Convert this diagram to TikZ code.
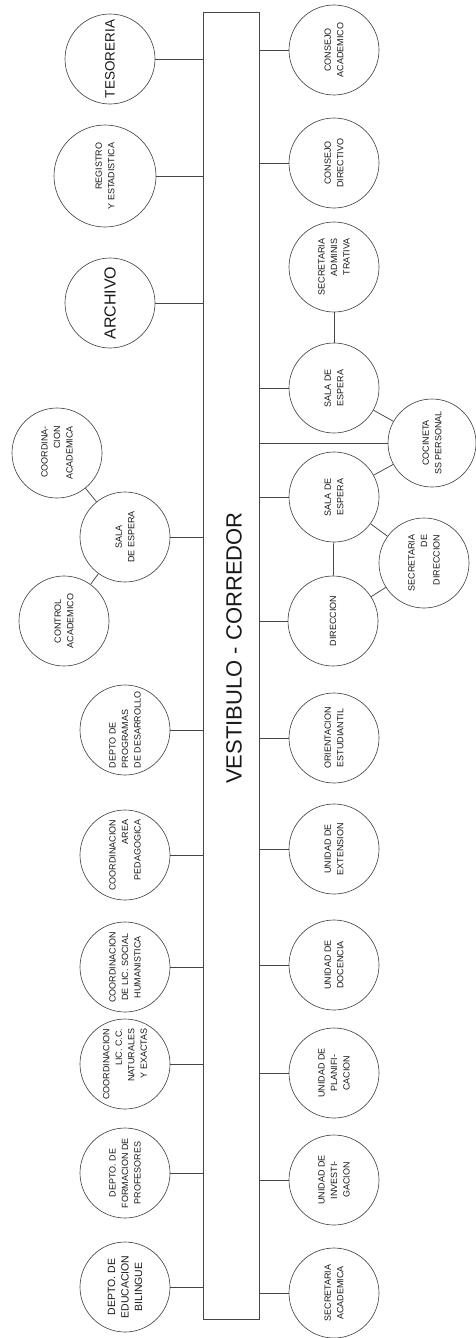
\documentclass[tikz,border=0pt]{standalone}
\usepackage{fontspec}
\setmainfont{Liberation Sans}
\definecolor{planline}{RGB}{70,70,70}
\definecolor{plantext}{RGB}{25,25,25}
\tikzset{
  room/.style={
    circle,
    draw=planline,
    line width=0.65pt,
    minimum size=90pt,
    inner sep=0pt,
    align=center,
    rotate=90,
    text=plantext,
    font=\fontsize{9}{12.5}\selectfont
  },
  hall/.style={
    rectangle,
    draw=planline,
    line width=0.8pt,
    minimum width=56pt,
    minimum height=1307pt,
    inner sep=0pt
  },
  hallname/.style={
    rotate=90,
    text=plantext,
    font=\fontsize{22}{24}\selectfont
  },
  link/.style={
    draw=planline,
    line width=0.75pt
  }
}

\begin{document}
\begin{tikzpicture}[x=1pt,y=-1pt]
\useasboundingbox (0,0) rectangle (475,1338);
\node[hall] (bar) at (231,665.5) {};
\node[hallname] (hallname) at (234,648) {VESTIBULO - CORREDOR};

% left side
\node[room, font=\fontsize{13.5}{15}\selectfont] (tes) at (110,59) {TESORERIA};
\node[room, minimum size=102pt, align=right] (reg) at (105,176) {REGISTRO\\Y ESTADISTICA};
\node[room, font=\fontsize{16}{18}\selectfont] (arch) at (110,303) {ARCHIVO};
\node[room, align=right] (coac) at (57,453) {COORDINA-\\CION\\ACADEMICA};
\node[room] (salaL) at (125,537) {SALA\\DE ESPERA};
\node[room] (ctrl) at (64,621) {CONTROL\\ACADEMICO};
\node[room, align=left] (dprog) at (125,730) {DEPTO DE\\PROGRAMAS\\DE DESARROLLO};
\node[room, align=right] (cped) at (125,855) {COORDINACION\\AREA\\PEDAGOGICA};
\node[room] (csoc) at (125,967) {COORDINACION\\DE LIC. SOCIAL\\HUMANISTICA};
\node[room, align=right] (cnat) at (125,1064) {COORDINACION\\LIC. C.C.\\NATURALES\\Y EXACTAS};
\node[room] (dform) at (125,1173) {DEPTO. DE\\FORMACION DE\\PROFESORES};
\node[room, font=\fontsize{10.5}{13.5}\selectfont] (dbil) at (125,1287) {DEPTO. DE\\EDUCACION\\BILINGUE};

% right side
\node[room] (cacad) at (334,50) {CONSEJO\\ACADEMICO};
\node[room] (cdir) at (334,163) {CONSEJO\\DIRECTIVO};
\node[room, align=right] (sadm) at (334,267) {SECRETARIA\\ADMINIS\\TRATIVA};
\node[room] (salaA) at (334,388) {SALA DE\\ESPERA};
\node[room, minimum size=88pt] (coc) at (432,443) {COCINETA\\SS PERSONAL};
\node[room] (salaB) at (334,497) {SALA DE\\ESPERA};
\node[room, align=right] (sdir) at (424,563) {SECRETARIA\\DE\\DIRECCION};
\node[room] (dir) at (333,621) {DIRECCION};
\node[room] (oest) at (334,738) {ORIENTACION\\ESTUDIANTIL};
\node[room] (uext) at (334,849) {UNIDAD DE\\EXTENSION};
\node[room] (udoc) at (334,965) {UNIDAD DE\\DOCENCIA};
\node[room] (uplan) at (334,1073) {UNIDAD DE\\PLANIFI-\\CACION};
\node[room] (uinv) at (334,1180) {UNIDAD DE\\INVESTI-\\GACION};
\node[room] (secac) at (334,1293) {SECRETARIA\\ACADEMICA};

% links to the corridor
\foreach \r in {tes,reg,arch,salaL,dprog,cped,csoc,cnat,dform,dbil}
  \draw[link] (\r) -- (\r -| bar.west);
\foreach \r in {cacad,cdir,salaA,coc,salaB,dir,oest,uext,udoc,uplan,uinv,secac}
  \draw[link] (\r) -- (\r -| bar.east);

% links between rooms
\draw[link] (salaL) -- (coac);
\draw[link] (salaL) -- (ctrl);
\draw[link] (sadm) -- (salaA);
\draw[link] (salaA) -- (coc);
\draw[link] (salaB) -- (coc);
\draw[link] (salaB) -- (sdir);
\draw[link] (salaB) -- (dir);
\draw[link] (dir) -- (sdir);
\end{tikzpicture}
\end{document}
